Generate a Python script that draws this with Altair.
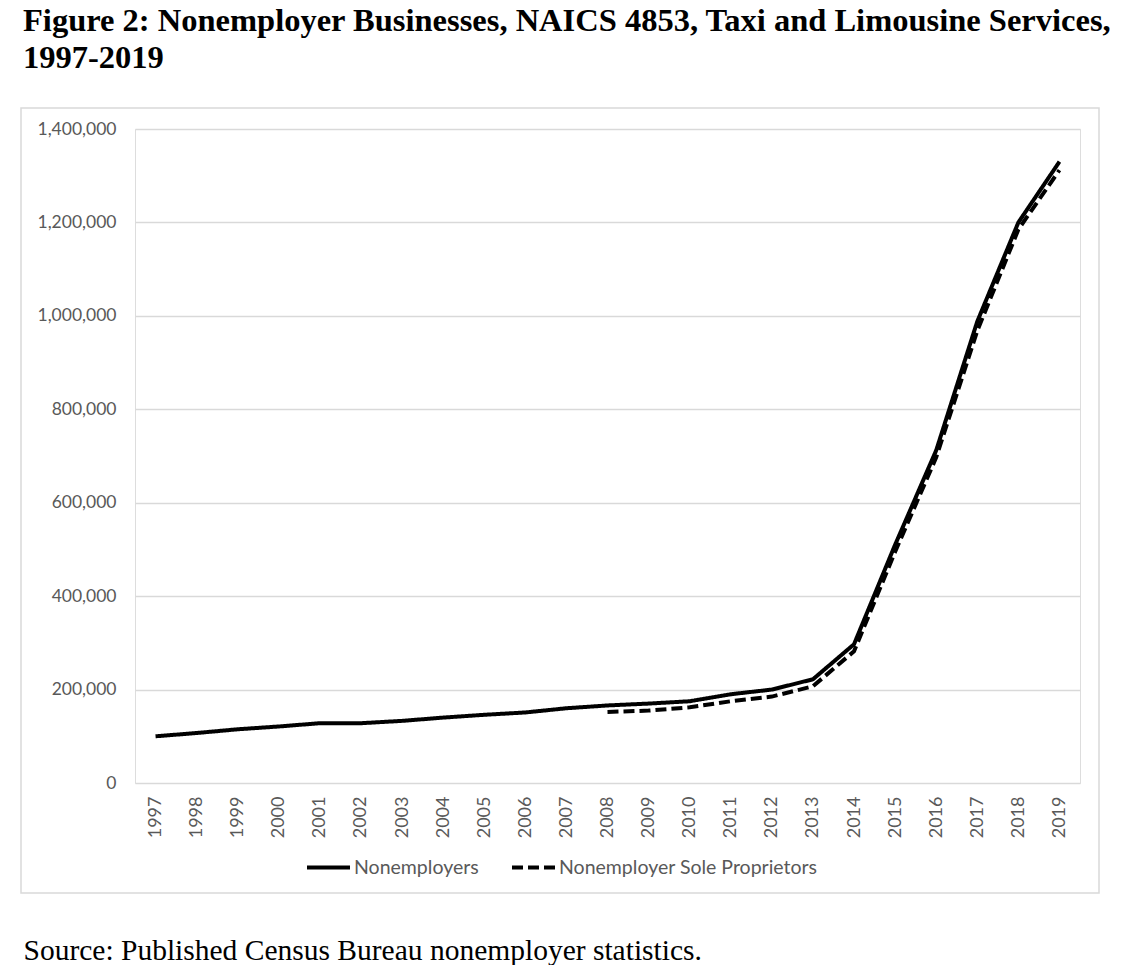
import altair as alt
import pandas as pd

years = [str(y) for y in range(1997, 2020)]
nonemployers = [100000, 107000, 115000, 121000, 128000, 128000, 133000, 140000,
                146000, 151000, 160000, 166000, 170000, 175000, 190000, 200000,
                222000, 297000, 510000, 712000, 988000, 1200000, 1330000]
sole_years = [str(y) for y in range(2008, 2020)]
sole_props = [152000, 155000, 162000, 175000, 185000, 207000, 282000, 495000,
              697000, 968000, 1185000, 1312000]
series_names = ["Nonemployers", "Nonemployer Sole Proprietors"]

rows = [{"year": y, "value": v, "series": series_names[0]} for y, v in zip(years, nonemployers)]
rows += [{"year": y, "value": v, "series": series_names[1]} for y, v in zip(sole_years, sole_props)]
df = pd.DataFrame(rows)

PLOT_W, PLOT_H = 945, 654
LABEL_FONT = "Lato"
LABEL_COLOR = "#595959"

lines = alt.Chart(df).mark_line(color="black", strokeWidth=4, strokeCap="butt").encode(
    x=alt.X("year:O", sort=years,
            scale=alt.Scale(domain=years, paddingInner=0, paddingOuter=0),
            axis=alt.Axis(title="Source: Published Census Bureau nonemployer statistics.",
                          labelAngle=-90, labelPadding=13, ticks=False, tickSize=0,
                          domain=False, grid=False,
                          labelFont=LABEL_FONT, labelFontSize=18, labelColor=LABEL_COLOR,
                          titleFont="Liberation Serif", titleFontSize=29.5, titleFontWeight="normal",
                          titleColor="black", titleX=-112, titleY=176, titleAlign="left",
                          titleBaseline="alphabetic", titleAnchor="start", titleLimit=0)),
    y=alt.Y("value:Q", scale=alt.Scale(domain=[0, 1400000], nice=False),
            axis=alt.Axis(title=None, values=list(range(0, 1400001, 200000)), format=",d",
                          ticks=False, tickSize=0, domain=False, labelPadding=19,
                          gridColor="#d9d9d9", gridWidth=1.3,
                          labelFont=LABEL_FONT, labelFontSize=17.5, labelColor=LABEL_COLOR)),
    strokeDash=alt.StrokeDash("series:N",
                              scale=alt.Scale(domain=series_names, range=[[1, 0], [11, 5]]),
                              legend=alt.Legend(title=None, orient="none", legendX=170, legendY=715,
                                                direction="horizontal", columns=2, padding=0,
                                                symbolType="stroke", symbolSize=1849,
                                                symbolStrokeWidth=4, symbolStrokeColor="black",
                                                labelOffset=2, columnPadding=25, labelLimit=0,
                                                labelFont=LABEL_FONT, labelFontSize=19.5,
                                                labelColor=LABEL_COLOR)),
    order=alt.Order("year:O"),
)

frame = alt.Chart(alt.Data(values=[{}])).mark_rect(
    filled=False, stroke="#d9d9d9", strokeWidth=1.5
).encode(
    x=alt.value(-114), x2=alt.value(964), y=alt.value(-21), y2=alt.value(764)
)

chart = alt.layer(frame, lines).properties(
    width=PLOT_W, height=PLOT_H,
    title=alt.TitleParams(
        text=["Figure 2: Nonemployer Businesses, NAICS 4853, Taxi and Limousine Services,",
              "1997-2019"],
        anchor="start", frame="group", dx=-112, dy=-33, font="Liberation Serif", fontSize=32.5,
        fontWeight="bold", color="black", lineHeight=37, offset=0, limit=0),
    autosize=alt.AutoSizeParams(type="none"),
    padding={"left": 127, "top": 121, "right": 50, "bottom": 182},
).configure_view(strokeWidth=0).configure(background="white")

chart.save("out.html", embed_options={"renderer": "svg", "actions": False})
